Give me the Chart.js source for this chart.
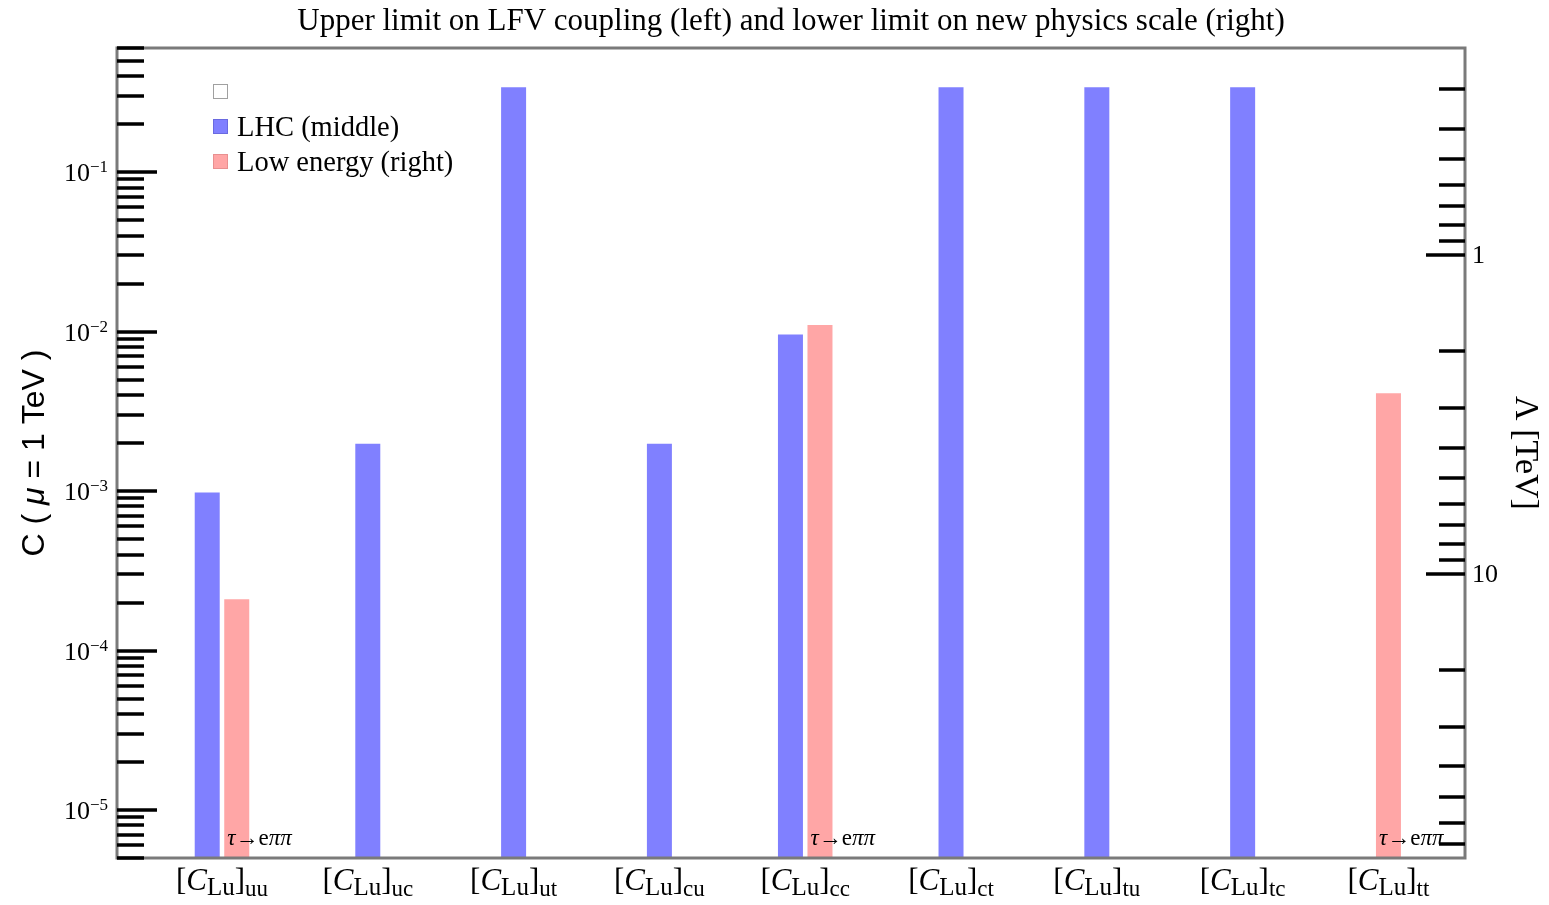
<!DOCTYPE html>
<html>
<head>
<meta charset="utf-8">
<script src="https://cdn.jsdelivr.net/npm/chart.js@4.4.0/dist/chart.umd.min.js"></script>
<style>
  html, body { margin: 0; padding: 0; background: #ffffff; }
  #wrap { width: 1549px; height: 905px; position: relative; }
</style>
</head>
<body>
<div id="wrap"><canvas id="chart"></canvas></div>
<script>
// Operators and their limits
const categories = ['uu', 'uc', 'ut', 'cu', 'cc', 'ct', 'tu', 'tc', 'tt'];
const lhcLimits = [0.00098, 0.00198, 0.34, 0.00198, 0.0096, 0.34, 0.34, 0.34, null];
const lowEnergyLimits = [0.00021, null, null, null, 0.011, null, null, null, 0.0041];
const lowEnergyProcess = ['τ→eππ', '', '', '', 'τ→eππ', '', '', '', 'τ→eππ'];
const seriesLabels = ['', 'LHC (middle)', 'Low energy (right)'];
const seriesColors = ['#ffffff', '#8080ff', '#ffa6a6'];
const seriesBorders = ['#a0a0a0', '#6a6ae0', '#e89090'];

// Axes
const chartTitle = 'Upper limit on LFV coupling (left) and lower limit on new physics scale (right)';
const couplingRange = [5e-6, 0.6];
const couplingDecades = [-5, -4, -3, -2, -1];
const scaleMajorTicks = [1, 10];
const scaleMinorTicks = [0.3, 0.4, 0.5, 0.6, 0.7, 0.8, 0.9, 2, 3, 4, 5, 6, 7, 8, 9, 20, 30, 40, 50, 60, 70];
const scaleNorm = 0.03; // Λ = sqrt(scaleNorm / C)

const SERIF = '"Liberation Serif", "Times New Roman", serif';
const SANS = '"Liberation Sans", Arial, sans-serif';

function drawRuns(ctx, runs, x, y, align) {
  let total = 0;
  runs.forEach(r => { ctx.font = r.font; r.w = ctx.measureText(r.text).width; total += r.w; });
  let cx = align === 'center' ? x - total / 2 : (align === 'right' ? x - total : x);
  ctx.textAlign = 'left';
  runs.forEach(r => { ctx.font = r.font; ctx.fillText(r.text, cx, y + (r.dy || 0)); cx += r.w; });
  return total;
}

// Greek letters in italic, everything else upright
function processRuns(text, size) {
  return Array.from(text).map(ch => ({
    text: ch,
    font: (/[\u0370-\u03ff]/.test(ch) ? 'italic ' : '') + size + 'px ' + SERIF
  }));
}

const decorations = {
  id: 'decorations',
  afterDatasetsDraw(chart) {
    const { ctx, chartArea: a, scales } = chart;
    const yC = scales.y, yL = scales.lambda, xs = scales.x;
    ctx.save();
    ctx.fillStyle = '#000';
    ctx.textBaseline = 'alphabetic';

    // frame
    ctx.strokeStyle = '#7a7a7a';
    ctx.lineWidth = 3;
    ctx.strokeRect(a.left, a.top, a.right - a.left, a.bottom - a.top);

    // inward tick marks
    ctx.strokeStyle = '#000';
    ctx.lineWidth = 3.5;
    const hTick = (py, x0, x1) => {
      const y = Math.round(py);
      ctx.beginPath(); ctx.moveTo(x0, y); ctx.lineTo(x1, y); ctx.stroke();
    };
    couplingDecades.concat([-6]).forEach(e => {
      for (let m = 1; m <= 9; m++) {
        const v = m * Math.pow(10, e);
        if (v < couplingRange[0] * 0.999 || v > couplingRange[1] * 1.001) continue;
        hTick(yC.getPixelForValue(v), a.left, a.left + (m === 1 ? 40 : 27));
      }
    });
    scaleMinorTicks.forEach(v => hTick(yL.getPixelForValue(v), a.right - 26, a.right));
    scaleMajorTicks.forEach(v => hTick(yL.getPixelForValue(v), a.right - 39, a.right));

    // left tick labels 10^n
    couplingDecades.forEach(e => {
      const py = yC.getPixelForValue(Math.pow(10, e));
      drawRuns(ctx, [
        { text: '10', font: '26px ' + SERIF },
        { text: '\u2212' + Math.abs(e), font: '17px ' + SERIF, dy: -9 }
      ], a.left - 9, py + 9, 'right');
    });
    // right tick labels
    scaleMajorTicks.forEach(v => {
      const py = yL.getPixelForValue(v);
      drawRuns(ctx, [{ text: String(v), font: '26px ' + SERIF }], a.right + 7, py + 8, 'left');
    });

    // category labels [C_Lu]_ij
    categories.forEach((c, i) => {
      const px = xs.getPixelForValue(i);
      drawRuns(ctx, [
        { text: '[', font: '31px ' + SERIF },
        { text: 'C', font: 'italic 31px ' + SERIF },
        { text: 'Lu', font: '25px ' + SERIF, dy: 5 },
        { text: ']', font: '31px ' + SERIF },
        { text: c, font: '23px ' + SERIF, dy: 6 }
      ], px, 890, 'center');
    });

    // process annotations on the low-energy bars
    const lowMeta = chart.getDatasetMeta(2);
    lowEnergyProcess.forEach((p, i) => {
      if (!p || lowEnergyLimits[i] == null) return;
      const bar = lowMeta.data[i];
      drawRuns(ctx, processRuns(p, 23), bar.x - bar.width / 2 + 3, 845, 'left');
    });

    // legend
    chart.data.datasets.forEach((ds, k) => {
      const top = 84 + k * 35;
      ctx.fillStyle = ds.backgroundColor;
      ctx.fillRect(213, top, 15, 15);
      ctx.strokeStyle = ds.legendBorder;
      ctx.lineWidth = 1;
      ctx.strokeRect(213.5, top + 0.5, 14, 14);
      ctx.fillStyle = '#000';
      drawRuns(ctx, [{ text: ds.label, font: '28.5px ' + SERIF }], 237, top + 17, 'left');
    });

    // title
    drawRuns(ctx, [{ text: chartTitle, font: '31px ' + SERIF }], (a.left + a.right) / 2, 30, 'center');

    // left axis title
    ctx.save();
    ctx.translate(44, (a.top + a.bottom) / 2);
    ctx.rotate(-Math.PI / 2);
    drawRuns(ctx, [
      { text: 'C ( ', font: '32px ' + SANS },
      { text: 'μ', font: 'italic 32px ' + SANS },
      { text: ' = 1 TeV )', font: '32px ' + SANS }
    ], 0, 0, 'center');
    ctx.restore();

    // right axis title
    ctx.save();
    ctx.translate(1516, (a.top + a.bottom) / 2);
    ctx.rotate(Math.PI / 2);
    drawRuns(ctx, [{ text: 'Λ [TeV]', font: '34px ' + SERIF }], 0, 0, 'center');
    ctx.restore();

    ctx.restore();
  }
};

const toPoints = vals => vals.map((v, i) => ({ x: i, y: v }));

new Chart(document.getElementById('chart'), {
  type: 'bar',
  data: {
    datasets: [
      { label: seriesLabels[0], data: toPoints(categories.map(() => null)),
        backgroundColor: seriesColors[0], legendBorder: seriesBorders[0] },
      { label: seriesLabels[1], data: toPoints(lhcLimits),
        backgroundColor: seriesColors[1], legendBorder: seriesBorders[1] },
      { label: seriesLabels[2], data: toPoints(lowEnergyLimits),
        backgroundColor: seriesColors[2], legendBorder: seriesBorders[2] }
    ]
  },
  options: {
    responsive: true,
    maintainAspectRatio: false,
    animation: false,
    devicePixelRatio: 1,
    skipNull: true,
    categoryPercentage: 0.405,
    barPercentage: 0.86,
    maxBarThickness: 25,
    borderWidth: 0,
    layout: { padding: { left: 117, top: 48, right: 84, bottom: 47 } },
    plugins: { legend: { display: false }, title: { display: false }, tooltip: { enabled: false } },
    scales: {
      x: { type: 'linear', display: false, offset: false, min: -0.72, max: 8.525,
        afterBuildTicks: s => { s.ticks = categories.map((c, i) => ({ value: i })); } },
      y: { type: 'logarithmic', display: false, min: couplingRange[0], max: couplingRange[1] },
      lambda: { type: 'logarithmic', display: false, position: 'right', reverse: true,
        min: Math.sqrt(scaleNorm / couplingRange[1]), max: Math.sqrt(scaleNorm / couplingRange[0]) }
    }
  },
  plugins: [decorations]
});
</script>
</body>
</html>
